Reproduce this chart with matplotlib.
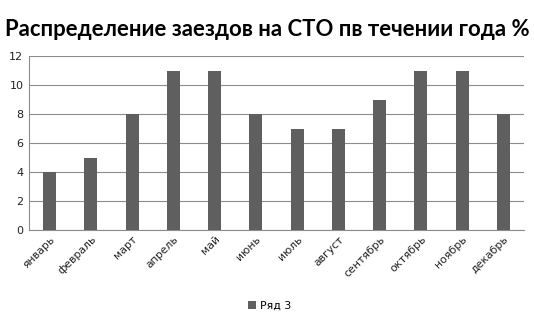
import matplotlib
matplotlib.use('Agg')
import matplotlib.pyplot as plt

months = ['январь', 'февраль', 'март', 'апрель', 'май', 'июнь',
          'июль', 'август', 'сентябрь', 'октябрь', 'ноябрь', 'декабрь']
visits = [4, 5, 8, 11, 11, 8, 7, 7, 9, 11, 11, 8]
yticks = [0, 2, 4, 6, 8, 10, 12]

fig = plt.figure(figsize=(5.34, 3.18), dpi=100)
ax = fig.add_axes([29 / 534, 1 - 230 / 318, (524 - 29) / 534, (230 - 56) / 318])

x = range(len(months))
ax.bar(x, visits, width=0.32, color='#5f5f5f', label='Ряд 3', zorder=3)

ax.set_xlim(-0.5, len(months) - 0.5)
ax.set_ylim(0, 12)
ax.set_yticks(yticks)
ax.yaxis.grid(True, color='#8c8c8c', linewidth=0.8, zorder=0)
ax.set_xticks(list(x))
ax.set_xticklabels(months, rotation=45, ha='right', rotation_mode='anchor',
                   fontsize=7.8, family='DejaVu Sans', color='#222222')
ax.tick_params(axis='y', labelsize=8, colors='#222222', length=0, pad=4)
ax.tick_params(axis='x', length=0, pad=3)
for s in ['top', 'right']:
    ax.spines[s].set_visible(False)
ax.spines['left'].set_color('#8c8c8c')
ax.spines['bottom'].set_color('#8c8c8c')

fig.text(0.5, 1 - 30 / 318, 'Распределение заездов на СТО пв течении года %',
         ha='center', va='center', fontsize=15.9, fontweight='bold', family='Lato')

fig.legend(loc='center', bbox_to_anchor=(0.505, 1 - 306 / 318), frameon=False,
           fontsize=7.8, handlelength=0.7, handleheight=0.7, handletextpad=0.4)

fig.savefig('out.png', dpi=100)
